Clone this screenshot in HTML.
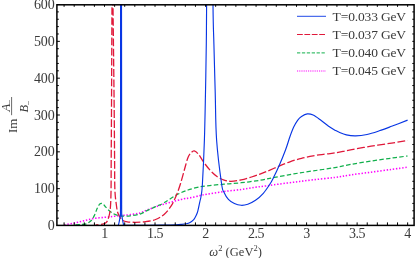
<!DOCTYPE html>
<html><head><meta charset="utf-8"><title>plot</title>
<style>
html,body{margin:0;padding:0;background:#fff;}
svg{display:block;will-change:transform;opacity:0.999;font-family:"Liberation Serif",serif;font-size:12px;fill:#3a3a3a;}
</style></head><body>
<svg width="415" height="258" viewBox="0 0 415 258">
<rect width="415" height="258" fill="#fff"/>
<defs><clipPath id="c"><rect x="56.9" y="4.8" width="357.20000000000005" height="221.6"/></clipPath></defs>
<g clip-path="url(#c)" fill="none" stroke-linejoin="round">
<path d="M64.50 225.20 C64.73 225.10 64.08 225.00 65.90 224.60 C67.72 224.20 72.23 223.48 75.40 222.80 C78.57 222.12 81.73 221.23 84.90 220.50 C88.07 219.77 91.05 218.93 94.40 218.40 C97.75 217.87 101.82 217.63 105.00 217.30 C108.18 216.97 110.67 216.72 113.50 216.40 C116.33 216.08 119.15 215.70 122.00 215.40 C124.85 215.10 127.60 215.00 130.60 214.60 C133.60 214.20 137.27 213.77 140.00 213.00 C142.73 212.23 144.40 211.02 147.00 210.00 C149.60 208.98 152.75 207.88 155.60 206.90 C158.45 205.92 159.83 205.35 164.10 204.10 C168.37 202.85 176.88 200.43 181.20 199.40 C185.52 198.37 186.87 198.53 190.00 197.90 C193.13 197.27 197.17 196.22 200.00 195.60 C202.83 194.98 202.98 194.88 207.00 194.20 C211.02 193.52 218.40 192.28 224.10 191.50 C229.80 190.72 236.05 190.20 241.20 189.50 C246.35 188.80 251.07 187.87 255.00 187.30 C258.93 186.73 261.57 186.53 264.80 186.10 C268.03 185.67 269.58 185.35 274.40 184.70 C279.22 184.05 287.25 183.02 293.70 182.20 C300.15 181.38 306.22 180.60 313.10 179.80 C319.98 179.00 328.77 178.22 335.00 177.40 C341.23 176.58 344.48 175.77 350.50 174.90 C356.52 174.03 364.25 173.12 371.10 172.20 C377.95 171.28 385.62 170.22 391.60 169.40 C397.58 168.58 404.43 167.65 407.00 167.30" stroke="#ff00ff" stroke-width="1.55" stroke-dasharray="1.4 1.75"/>
<path d="M75.40 224.90 C76.50 224.83 80.20 224.68 82.00 224.50 C83.80 224.32 84.70 224.42 86.20 223.80 C87.70 223.18 89.63 222.20 91.00 220.80 C92.37 219.40 93.38 217.43 94.40 215.40 C95.42 213.37 96.23 210.47 97.10 208.60 C97.97 206.73 98.85 205.08 99.60 204.20 C100.35 203.32 100.97 203.30 101.60 203.30 C102.23 203.30 102.80 203.67 103.40 204.20 C104.00 204.73 104.22 205.40 105.20 206.50 C106.18 207.60 107.92 209.60 109.30 210.80 C110.68 212.00 112.08 212.93 113.50 213.70 C114.92 214.47 116.38 215.00 117.80 215.40 C119.22 215.80 119.92 216.03 122.00 216.10 C124.08 216.17 127.30 216.13 130.30 215.80 C133.30 215.47 137.22 214.97 140.00 214.10 C142.78 213.23 144.40 211.85 147.00 210.60 C149.60 209.35 152.75 207.90 155.60 206.60 C158.45 205.30 160.68 204.72 164.10 202.80 C167.52 200.88 172.12 197.23 176.10 195.10 C180.08 192.97 184.02 191.38 188.00 190.00 C191.98 188.62 196.83 187.50 200.00 186.80 C203.17 186.10 203.00 186.23 207.00 185.80 C211.00 185.37 218.30 184.72 224.00 184.20 C229.70 183.68 235.20 183.35 241.20 182.70 C247.20 182.05 254.47 181.18 260.00 180.30 C265.53 179.42 268.78 178.47 274.40 177.40 C280.02 176.33 287.25 174.98 293.70 173.90 C300.15 172.82 306.22 171.95 313.10 170.90 C319.98 169.85 328.77 168.68 335.00 167.60 C341.23 166.52 344.48 165.48 350.50 164.40 C356.52 163.32 364.25 162.15 371.10 161.10 C377.95 160.05 385.52 158.95 391.60 158.10 C397.68 157.25 404.93 156.35 407.60 156.00" stroke="#12b04c" stroke-width="1.25" stroke-dasharray="4.4 2.3"/>
<path d="M95.70 224.90 C96.83 224.78 100.75 224.62 102.50 224.20 C104.25 223.78 105.30 223.15 106.20 222.40 C107.10 221.65 107.35 221.10 107.90 219.70 C108.45 218.30 109.07 216.28 109.50 214.00 C109.93 211.72 110.24 210.00 110.50 206.00 C110.76 202.00 110.93 197.67 111.05 190.00 C111.17 182.33 111.12 173.33 111.20 160.00 C111.28 146.67 111.40 130.00 111.50 110.00 C111.60 90.00 111.72 57.50 111.80 40.00 C111.88 22.50 111.93 18.33 112.00 5.00 C112.07 -8.33 112.12 -29.17 112.20 -40.00 C112.28 -50.83 112.40 -60.00 112.50 -60.00 C112.60 -60.00 112.72 -50.83 112.80 -40.00 C112.88 -29.17 112.90 -8.33 113.00 5.00 C113.10 18.33 113.20 22.50 113.40 40.00 C113.60 57.50 114.00 90.00 114.20 110.00 C114.40 130.00 114.48 146.67 114.60 160.00 C114.72 173.33 114.58 182.33 114.90 190.00 C115.22 197.67 116.02 202.20 116.50 206.00 C116.98 209.80 117.23 210.95 117.80 212.80 C118.37 214.65 119.05 215.82 119.90 217.10 C120.75 218.38 121.68 219.72 122.90 220.50 C124.12 221.28 125.12 221.50 127.20 221.80 C129.28 222.10 132.37 222.32 135.40 222.30 C138.43 222.28 142.03 222.17 145.40 221.70 C148.77 221.23 152.48 220.72 155.60 219.50 C158.72 218.28 161.53 216.62 164.10 214.40 C166.67 212.18 169.00 209.27 171.00 206.20 C173.00 203.13 174.53 199.70 176.10 196.00 C177.67 192.30 178.98 188.50 180.40 184.00 C181.82 179.50 183.33 173.42 184.60 169.00 C185.87 164.58 186.85 160.28 188.00 157.50 C189.15 154.72 190.45 153.40 191.50 152.30 C192.55 151.20 193.13 150.57 194.30 150.90 C195.47 151.23 196.93 152.42 198.50 154.30 C200.07 156.18 201.70 159.47 203.70 162.20 C205.70 164.93 208.23 168.28 210.50 170.70 C212.77 173.12 215.03 175.13 217.30 176.70 C219.57 178.27 221.82 179.33 224.10 180.10 C226.38 180.87 228.15 181.33 231.00 181.30 C233.85 181.27 237.78 180.62 241.20 179.90 C244.62 179.18 248.37 177.97 251.50 177.00 C254.63 176.03 257.48 175.02 260.00 174.10 C262.52 173.18 263.57 172.77 266.60 171.50 C269.63 170.23 274.32 168.12 278.20 166.50 C282.08 164.88 286.02 163.17 289.90 161.80 C293.78 160.43 297.63 159.30 301.50 158.30 C305.37 157.30 309.23 156.48 313.10 155.80 C316.97 155.12 321.05 154.68 324.70 154.20 C328.35 153.72 330.70 153.62 335.00 152.90 C339.30 152.18 344.48 151.02 350.50 149.90 C356.52 148.78 364.25 147.33 371.10 146.20 C377.95 145.07 385.52 144.05 391.60 143.10 C397.68 142.15 404.93 140.93 407.60 140.50" stroke="#e0183a" stroke-width="1.3" stroke-dasharray="7.8 2.4" stroke-dashoffset="5"/>
<path d="M57.00 225.45 C64.17 225.45 90.00 225.45 100.00 225.45 C110.00 225.45 113.92 225.59 117.00 225.45 C120.08 225.31 118.05 225.67 118.50 224.60 C118.95 223.53 119.40 220.68 119.70 219.00 C120.00 217.32 120.17 216.83 120.30 214.50 C120.43 212.17 120.46 224.08 120.50 205.00 C120.54 185.92 120.53 133.33 120.55 100.00 C120.57 66.67 120.56 28.33 120.60 5.00 C120.64 -18.33 120.72 -29.17 120.80 -40.00 C120.88 -50.83 120.97 -60.00 121.05 -60.00 C121.13 -60.00 121.22 -50.83 121.30 -40.00 C121.38 -29.17 121.45 -18.33 121.50 5.00 C121.55 28.33 121.57 66.67 121.60 100.00 C121.62 133.33 121.61 185.92 121.65 205.00 C121.69 224.08 121.72 212.17 121.85 214.50 C121.97 216.83 122.11 217.32 122.40 219.00 C122.69 220.68 123.13 223.57 123.60 224.60 C124.07 225.63 120.80 225.10 125.20 225.20 C129.60 225.30 143.37 225.23 150.00 225.20 C156.63 225.17 160.67 225.08 165.00 225.00 C169.33 224.92 173.33 224.80 176.00 224.70 C178.67 224.60 179.28 224.55 181.00 224.40 C182.72 224.25 184.80 224.10 186.30 223.80 C187.80 223.50 188.85 223.20 190.00 222.60 C191.15 222.00 192.35 221.05 193.20 220.20 C194.05 219.35 194.40 218.78 195.10 217.50 C195.80 216.22 196.83 214.08 197.40 212.50 C197.97 210.92 198.07 209.92 198.50 208.00 C198.93 206.08 199.57 203.00 200.00 201.00 C200.43 199.00 200.70 198.83 201.10 196.00 C201.50 193.17 201.85 193.33 202.40 184.00 C202.95 174.67 203.88 155.33 204.40 140.00 C204.92 124.67 205.18 108.00 205.50 92.00 C205.82 76.00 206.12 58.50 206.30 44.00 C206.48 29.50 206.40 32.33 206.60 5.00 C206.80 -22.33 206.97 -85.83 207.50 -120.00 C208.03 -154.17 209.05 -200.00 209.80 -200.00 C210.55 -200.00 211.47 -154.17 212.00 -120.00 C212.53 -85.83 212.68 -22.33 213.00 5.00 C213.32 32.33 213.53 29.50 213.90 44.00 C214.27 58.50 214.75 76.00 215.20 92.00 C215.65 108.00 215.53 124.67 216.60 140.00 C217.67 155.33 220.35 175.25 221.60 184.00 C222.85 192.75 222.97 189.93 224.10 192.50 C225.23 195.07 226.68 197.55 228.40 199.40 C230.12 201.25 232.27 202.62 234.40 203.60 C236.53 204.58 238.97 205.20 241.20 205.30 C243.43 205.40 245.42 205.03 247.80 204.20 C250.18 203.37 252.92 202.12 255.50 200.30 C258.08 198.48 260.97 195.88 263.30 193.30 C265.63 190.72 267.82 187.38 269.50 184.80 C271.18 182.22 271.78 181.02 273.40 177.80 C275.02 174.58 277.18 170.13 279.20 165.50 C281.22 160.87 283.72 154.78 285.50 150.00 C287.28 145.22 288.53 140.62 289.90 136.80 C291.27 132.98 292.42 129.85 293.70 127.10 C294.98 124.35 296.30 122.07 297.60 120.30 C298.90 118.53 299.88 117.57 301.50 116.50 C303.12 115.43 305.37 114.13 307.30 113.90 C309.23 113.67 310.83 114.03 313.10 115.10 C315.37 116.17 318.32 118.45 320.90 120.30 C323.48 122.15 326.25 124.55 328.60 126.20 C330.95 127.85 333.40 129.27 335.00 130.20 C336.60 131.13 336.30 131.02 338.20 131.80 C340.10 132.58 343.48 134.22 346.40 134.90 C349.32 135.58 352.27 135.97 355.70 135.90 C359.13 135.83 363.07 135.35 367.00 134.50 C370.93 133.65 375.20 132.17 379.30 130.80 C383.40 129.43 386.88 128.08 391.60 126.30 C396.32 124.52 404.93 121.13 407.60 120.10" stroke="#0836e4" stroke-width="1.15"/>
</g>
<path d="M64.08 225.40 v-3.0 M64.08 4.80 v2.0 M74.19 225.40 v-3.0 M74.19 4.80 v2.0 M84.29 225.40 v-3.0 M84.29 4.80 v2.0 M94.40 225.40 v-3.0 M94.40 4.80 v2.0 M104.50 225.40 v-3.0 M104.50 4.80 v2.0 M114.61 225.40 v-3.0 M114.61 4.80 v2.0 M124.71 225.40 v-3.0 M124.71 4.80 v2.0 M134.81 225.40 v-3.0 M134.81 4.80 v2.0 M144.92 225.40 v-3.0 M144.92 4.80 v2.0 M155.03 225.40 v-3.0 M155.03 4.80 v2.0 M165.13 225.40 v-3.0 M165.13 4.80 v2.0 M175.24 225.40 v-3.0 M175.24 4.80 v2.0 M185.34 225.40 v-3.0 M185.34 4.80 v2.0 M195.44 225.40 v-3.0 M195.44 4.80 v2.0 M205.55 225.40 v-3.0 M205.55 4.80 v2.0 M215.66 225.40 v-3.0 M215.66 4.80 v2.0 M225.76 225.40 v-3.0 M225.76 4.80 v2.0 M235.86 225.40 v-3.0 M235.86 4.80 v2.0 M245.97 225.40 v-3.0 M245.97 4.80 v2.0 M256.07 225.40 v-3.0 M256.07 4.80 v2.0 M266.18 225.40 v-3.0 M266.18 4.80 v2.0 M276.29 225.40 v-3.0 M276.29 4.80 v2.0 M286.39 225.40 v-3.0 M286.39 4.80 v2.0 M296.50 225.40 v-3.0 M296.50 4.80 v2.0 M306.60 225.40 v-3.0 M306.60 4.80 v2.0 M316.71 225.40 v-3.0 M316.71 4.80 v2.0 M326.81 225.40 v-3.0 M326.81 4.80 v2.0 M336.91 225.40 v-3.0 M336.91 4.80 v2.0 M347.02 225.40 v-3.0 M347.02 4.80 v2.0 M357.12 225.40 v-3.0 M357.12 4.80 v2.0 M367.23 225.40 v-3.0 M367.23 4.80 v2.0 M377.34 225.40 v-3.0 M377.34 4.80 v2.0 M387.44 225.40 v-3.0 M387.44 4.80 v2.0 M397.54 225.40 v-3.0 M397.54 4.80 v2.0 M407.65 225.40 v-3.0 M407.65 4.80 v2.0 M56.90 225.50 h3.0 M414.10 225.50 h-1.8 M56.90 218.13 h1.9 M414.10 218.13 h-1.8 M56.90 210.77 h1.9 M414.10 210.77 h-1.8 M56.90 203.40 h1.9 M414.10 203.40 h-1.8 M56.90 196.04 h1.9 M414.10 196.04 h-1.8 M56.90 188.67 h3.0 M414.10 188.67 h-1.8 M56.90 181.30 h1.9 M414.10 181.30 h-1.8 M56.90 173.94 h1.9 M414.10 173.94 h-1.8 M56.90 166.57 h1.9 M414.10 166.57 h-1.8 M56.90 159.21 h1.9 M414.10 159.21 h-1.8 M56.90 151.84 h3.0 M414.10 151.84 h-1.8 M56.90 144.47 h1.9 M414.10 144.47 h-1.8 M56.90 137.11 h1.9 M414.10 137.11 h-1.8 M56.90 129.74 h1.9 M414.10 129.74 h-1.8 M56.90 122.38 h1.9 M414.10 122.38 h-1.8 M56.90 115.01 h3.0 M414.10 115.01 h-1.8 M56.90 107.64 h1.9 M414.10 107.64 h-1.8 M56.90 100.28 h1.9 M414.10 100.28 h-1.8 M56.90 92.91 h1.9 M414.10 92.91 h-1.8 M56.90 85.55 h1.9 M414.10 85.55 h-1.8 M56.90 78.18 h3.0 M414.10 78.18 h-1.8 M56.90 70.81 h1.9 M414.10 70.81 h-1.8 M56.90 63.45 h1.9 M414.10 63.45 h-1.8 M56.90 56.08 h1.9 M414.10 56.08 h-1.8 M56.90 48.72 h1.9 M414.10 48.72 h-1.8 M56.90 41.35 h3.0 M414.10 41.35 h-1.8 M56.90 33.98 h1.9 M414.10 33.98 h-1.8 M56.90 26.62 h1.9 M414.10 26.62 h-1.8 M56.90 19.25 h1.9 M414.10 19.25 h-1.8 M56.90 11.89 h1.9 M414.10 11.89 h-1.8 M56.90 4.52 h3.0 M414.10 4.52 h-1.8" stroke="#000" stroke-width="1" fill="none"/>
<rect x="56.9" y="4.8" width="357.20000000000005" height="220.6" fill="none" stroke="#000" stroke-width="1.5"/>
<g><text x="104.5" y="238.0" text-anchor="middle" font-size="14" letter-spacing="-0.5">1</text><text x="155.0" y="238.0" text-anchor="middle" font-size="14" letter-spacing="-0.5">1.5</text><text x="205.6" y="238.0" text-anchor="middle" font-size="14" letter-spacing="-0.5">2</text><text x="256.1" y="238.0" text-anchor="middle" font-size="14" letter-spacing="-0.5">2.5</text><text x="306.6" y="238.0" text-anchor="middle" font-size="14" letter-spacing="-0.5">3</text><text x="357.1" y="238.0" text-anchor="middle" font-size="14" letter-spacing="-0.5">3.5</text><text x="407.6" y="238.0" text-anchor="middle" font-size="14" letter-spacing="-0.5">4</text><text x="54.6" y="230.1" text-anchor="end" font-size="14" letter-spacing="-0.1">0</text><text x="54.6" y="193.3" text-anchor="end" font-size="14" letter-spacing="-0.1">100</text><text x="54.6" y="156.4" text-anchor="end" font-size="14" letter-spacing="-0.1">200</text><text x="54.6" y="119.6" text-anchor="end" font-size="14" letter-spacing="-0.1">300</text><text x="54.6" y="82.8" text-anchor="end" font-size="14" letter-spacing="-0.1">400</text><text x="54.6" y="45.9" text-anchor="end" font-size="14" letter-spacing="-0.1">500</text><text x="54.6" y="9.1" text-anchor="end" font-size="14" letter-spacing="-0.1">600</text></g>
<g><path d="M297 16.3 H326" stroke="#0836e4" stroke-width="0.9" fill="none" /><text x="332.6" y="20.5" textLength="73.5" lengthAdjust="spacing" font-size="13.5">T=0.033 GeV</text><path d="M297 34.5 H326" stroke="#e0183a" stroke-width="1.0" fill="none" stroke-dasharray="5.8 1.6"/><text x="332.6" y="38.7" textLength="73.5" lengthAdjust="spacing" font-size="13.5">T=0.037 GeV</text><path d="M297 52.9 H326" stroke="#12b04c" stroke-width="1.0" fill="none" stroke-dasharray="3.3 1.6"/><text x="332.6" y="57.1" textLength="73.5" lengthAdjust="spacing" font-size="13.5">T=0.040 GeV</text><path d="M297 71.0 H326" stroke="#ff00ff" stroke-width="1.1" fill="none" stroke-dasharray="1.15 1.05"/><text x="332.6" y="75.2" textLength="73.5" lengthAdjust="spacing" font-size="13.5">T=0.045 GeV</text></g>
<text x="209.3" y="255.8" font-size="12.5" textLength="52.6" lengthAdjust="spacing">
<tspan font-style="italic">ω</tspan><tspan dy="-4.5" font-size="8.5">2</tspan><tspan dy="4.5"> (GeV</tspan><tspan dy="-4.5" font-size="8.5">2</tspan><tspan dy="4.5">)</tspan></text>
<g transform="translate(16.7,133) rotate(-90)">
<text x="0" y="0" font-size="13">Im</text>
<text x="21.6" y="-6.9" font-style="italic" font-size="12.5">A<tspan dy="2.2" dx="-0.5" font-size="8.5" font-style="normal">−</tspan></text>
<path d="M17.8 -5.1 H36" stroke="#444" stroke-width="0.8"/>
<text x="20.4" y="11.7" font-style="italic" font-size="12.5">B<tspan dy="2.2" dx="-0.3" font-size="8.5" font-style="normal">−</tspan></text>
</g>
</svg>
</body></html>
